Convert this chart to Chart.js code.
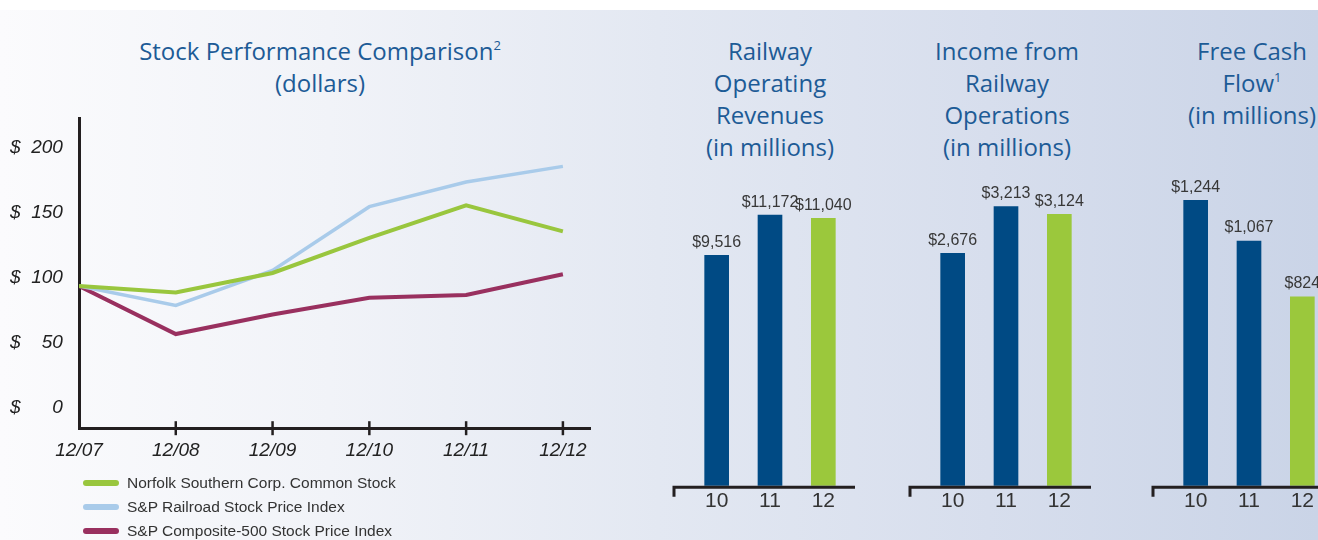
<!DOCTYPE html>
<html>
<head>
<meta charset="utf-8">
<script src="https://cdn.jsdelivr.net/npm/chart.js@4.4.1/dist/chart.umd.min.js"></script>
<style>
html, body { margin: 0; padding: 0; width: 1318px; height: 540px; overflow: hidden; background: #fff; }
#bg { position: absolute; left: 0; top: 10px; width: 1318px; height: 530px;
  background: linear-gradient(to right, #fbfbfd 0%, #f1f3f8 25%, #e3e8f2 50%, #d7deed 75%, #cad4e7 100%); }
.title { position: absolute; color: #1d5b96; font-family: "Open Sans", sans-serif; font-size: 24px;
  line-height: 32px; text-align: center; white-space: nowrap; }
.title sup { font-size: 13px; vertical-align: 10px; line-height: 0; }
canvas { position: absolute; }
#legend { position: absolute; left: 83px; top: 471px; font-family: "Liberation Sans", sans-serif;
  font-size: 15.5px; color: #333; }
#legend .row { height: 24px; display: flex; align-items: center; }
#legend .sw { width: 36px; height: 6px; border-radius: 3px; margin-right: 8px; }
</style>
</head>
<body>
<div id="bg"></div>

<div class="title" style="left:120px;top:35px;width:400px">Stock Performance Comparison<sup>2</sup><br>(dollars)</div>
<div class="title" style="left:670px;top:35px;width:200px">Railway<br>Operating<br>Revenues<br>(in millions)</div>
<div class="title" style="left:907px;top:35px;width:200px">Income from<br>Railway<br>Operations<br>(in millions)</div>
<div class="title" style="left:1152px;top:35px;width:200px">Free Cash<br>Flow<sup>1</sup><br>(in millions)</div>

<canvas id="stock" style="left:0;top:100px" width="610" height="373"></canvas>
<div id="legend"></div>

<canvas id="rev" style="left:670px;top:160px" width="200" height="357"></canvas>
<canvas id="inc" style="left:906px;top:160px" width="200" height="357"></canvas>
<canvas id="fcf" style="left:1149px;top:160px" width="200" height="357"></canvas>

<script>
// stock performance (value of $100 invested)
var periods = ['12/07', '12/08', '12/09', '12/10', '12/11', '12/12'];
var norfolk = [94, 89, 104, 131, 156, 136];
var railroad = [94, 79, 106, 155, 174, 186];
var sp500 = [94, 57, 72, 85, 87, 103];
var stockTicks = [0, 50, 100, 150, 200];

// bar panels
var years = ['10', '11', '12'];
var revenues = [9516, 11172, 11040];
var income = [2676, 3213, 3124];
var freeCash = [1244, 1067, 824];

var navy = '#004a84';
var lime = '#9bc83c';
var ink = '#231f20';
var axisFont = {family: '"Liberation Sans", sans-serif', size: 19, style: 'italic'};

Chart.defaults.font.family = '"Liberation Sans", sans-serif';
Chart.defaults.color = '#333';

function points(arr) {
    return arr.map(function (v, i) { return {x: i, y: v}; });
}

// little tick marks crossing the x axis of the line chart
var crossTicks = {
    id: 'crossTicks',
    afterDraw: function (chart) {
        var ctx = chart.ctx, xs = chart.scales.x, b = chart.chartArea.bottom;
        ctx.save();
        ctx.strokeStyle = ink;
        ctx.lineWidth = 2.5;
        for (var i = 1; i < periods.length; i++) {
            var px = xs.getPixelForValue(i);
            ctx.beginPath();
            ctx.moveTo(px, b - 7);
            ctx.lineTo(px, b + 7);
            ctx.stroke();
        }
        ctx.restore();
    }
};

var stockChart = new Chart(document.getElementById('stock'), {
    type: 'line',
    data: {
        datasets: [
            {label: 'Norfolk Southern Corp. Common Stock', data: points(norfolk), borderColor: '#99c63e', borderWidth: 4},
            {label: 'S&P Railroad Stock Price Index', data: points(railroad), borderColor: '#a9cbea', borderWidth: 3.5},
            {label: 'S&P Composite-500 Stock Price Index', data: points(sp500), borderColor: '#99305f', borderWidth: 4}
        ]
    },
    options: {
        responsive: false,
        animation: false,
        layout: {padding: {left: 10, top: 18, right: 20, bottom: 0}},
        elements: {point: {radius: 0}, line: {tension: 0}},
        plugins: {legend: {display: false}, tooltip: {enabled: false}},
        scales: {
            x: {
                type: 'linear', min: 0, max: 5.28,
                afterBuildTicks: function (s) { s.ticks = periods.map(function (p, i) { return {value: i}; }); },
                ticks: {
                    callback: function (v) { return periods[v]; },
                    font: axisFont, color: '#222', padding: 11, maxRotation: 0
                },
                grid: {display: false, drawTicks: false},
                border: {display: true, color: ink, width: 3}
            },
            y: {
                min: -15.4, max: 223.2,
                afterBuildTicks: function (s) { s.ticks = stockTicks.map(function (v) { return {value: v}; }); },
                afterFit: function (s) { s.width = 69; },
                ticks: {
                    crossAlign: 'far',
                    callback: function (v) { return '$\u2007' + String(v).padStart(3, '\u2007'); },
                    font: axisFont, color: '#222'
                },
                grid: {display: false, drawTicks: false},
                border: {display: true, color: ink, width: 3}
            }
        }
    },
    plugins: [crossTicks]
});

// legend built from the line chart's datasets
var legendBox = document.getElementById('legend');
stockChart.data.datasets.forEach(function (ds) {
    var row = document.createElement('div');
    row.className = 'row';
    var sw = document.createElement('span');
    sw.className = 'sw';
    sw.style.background = ds.borderColor;
    row.appendChild(sw);
    row.appendChild(document.createTextNode(ds.label));
    legendBox.appendChild(row);
});

// base line with a left down-tick, plus value labels over the bars
var barDecor = {
    id: 'barDecor',
    afterDatasetsDraw: function (chart) {
        var ctx = chart.ctx, a = chart.chartArea;
        ctx.save();
        ctx.strokeStyle = ink;
        ctx.lineWidth = 3;
        ctx.beginPath();
        ctx.moveTo(a.left - 16, a.bottom + 11);
        ctx.lineTo(a.left - 16, a.bottom + 1.5);
        ctx.lineTo(a.right + 5, a.bottom + 1.5);
        ctx.stroke();

        ctx.fillStyle = '#383838';
        ctx.font = '16px "Liberation Sans", sans-serif';
        ctx.textAlign = 'center';
        ctx.textBaseline = 'bottom';
        var vals = chart.data.datasets[0].data;
        chart.getDatasetMeta(0).data.forEach(function (bar, i) {
            ctx.fillText('$' + vals[i].toLocaleString('en-US'), bar.x, bar.y - 5);
        });
        ctx.restore();
    }
};

function barPanel(id, values, yMax) {
    return new Chart(document.getElementById(id), {
        type: 'bar',
        data: {
            labels: years,
            datasets: [{data: values, backgroundColor: [navy, navy, lime], barThickness: 24}]
        },
        options: {
            responsive: false,
            animation: false,
            layout: {padding: {left: 20, right: 20, top: 0, bottom: 0}},
            plugins: {legend: {display: false}, tooltip: {enabled: false}},
            scales: {
                x: {
                    grid: {display: false, drawTicks: false},
                    border: {display: false},
                    ticks: {font: {size: 21}, color: '#333', padding: 3}
                },
                y: {display: false, min: 0, max: yMax}
            }
        },
        plugins: [barDecor]
    });
}

barPanel('rev', revenues, 13450);
barPanel('inc', income, 3750);
barPanel('fcf', freeCash, 1420);
</script>
</body>
</html>
